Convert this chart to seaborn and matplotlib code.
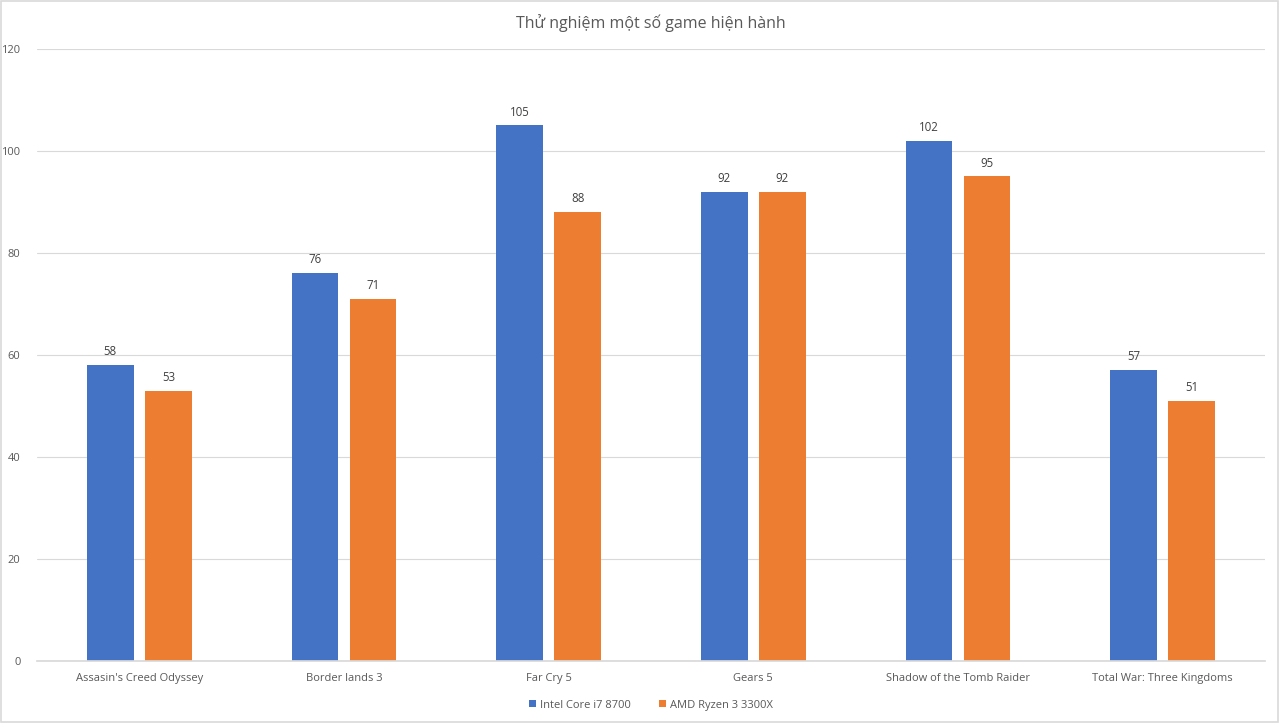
import matplotlib
matplotlib.use('Agg')
import matplotlib.pyplot as plt
import pandas as pd
import seaborn as sns
from matplotlib.patches import Rectangle

games = ['Assasin\'s Creed Odyssey', 'Border lands 3', 'Far Cry 5', 'Gears 5',
         'Shadow of the Tomb Raider', 'Total War: Three Kingdoms']
intel = [58, 76, 105, 92, 102, 57]
amd = [53, 71, 88, 92, 95, 51]
series = ['Intel Core i7 8700', 'AMD Ryzen 3 3300X']
colors = ['#4472C4', '#ED7D31']

df = pd.DataFrame({
    'game': games * 2,
    'cpu': [series[0]] * len(games) + [series[1]] * len(games),
    'fps': intel + amd,
})

sns.set_theme(style='white')
plt.rcParams['font.family'] = ['Open Sans', 'DejaVu Sans']
txt = '#595959'

fig = plt.figure(figsize=(12.79, 7.23), dpi=100)
ax = fig.add_axes([0.029, 0.0858, 0.96, 0.8465])

sns.barplot(data=df, x='game', y='fps', hue='cpu', palette=colors,
            width=0.567, gap=0.2, ax=ax, legend=True, saturation=1, linewidth=0)

for cont in ax.containers:
    ax.bar_label(cont, padding=5, fontsize=8.3, color='#404040')

ax.set_ylim(0, 120)
ax.set_yticks(range(0, 121, 20))
ax.set_xlim(-0.5, 5.5)
ax.yaxis.grid(True, color='#d9d9d9', linewidth=0.8)
ax.set_axisbelow(True)
for s in ['top', 'right', 'left']:
    ax.spines[s].set_visible(False)
ax.spines['bottom'].set_color('#d9d9d9')
ax.tick_params(axis='both', length=0, labelsize=8, colors=txt)
ax.tick_params(axis='y', pad=12)
ax.tick_params(axis='x', pad=9)
ax.set_xlabel('')
ax.set_ylabel('')

ax.set_title('Thử nghiệm một số game hiện hành', fontsize=11.5, color=txt, pad=15)

handles, labels = ax.get_legend_handles_labels()
ax.legend(handles, labels, loc='center', bbox_to_anchor=(0.5, -0.072),
          ncol=2, frameon=False, fontsize=8, labelcolor=txt,
          handlelength=0.6, handleheight=0.6, handletextpad=0.4, columnspacing=2.5)

fig.patches.append(Rectangle((0.001, 0.002), 0.998, 0.996, transform=fig.transFigure,
                             fill=False, edgecolor='#d9d9d9', linewidth=1.2))

fig.savefig('out.png', dpi=100)
